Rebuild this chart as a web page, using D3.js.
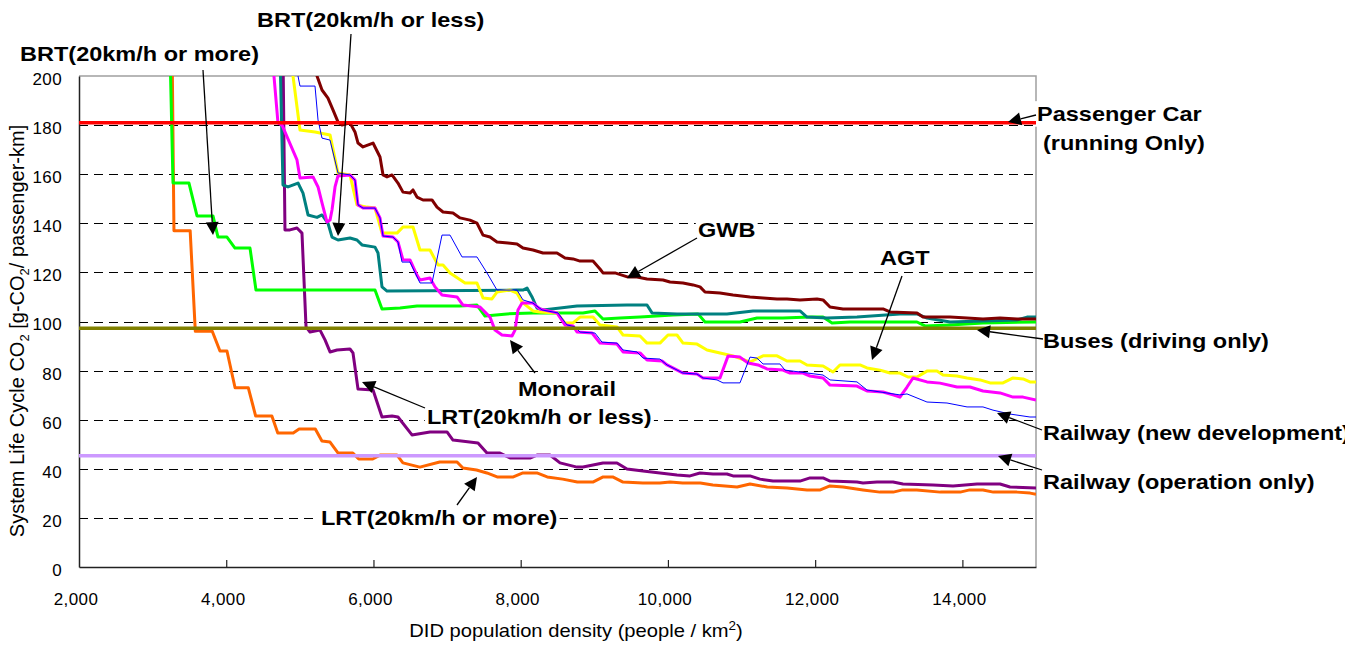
<!DOCTYPE html>
<html>
<head>
<meta charset="utf-8">
<script src="https://cdn.jsdelivr.net/npm/d3@7"></script>
<style>
  body { margin: 0; background: #fff; }
  svg { display: block; font-family: "Liberation Sans", Arial, sans-serif; }
</style>
</head>
<body>
<svg id="chart" width="1345" height="647"></svg>
<script>

// Series: [DID population density, g-CO2 / passenger-km]
const lrtFast = [[3265,210],[3290,137],[3510,137],[3580,96],[3810,96],[3915,88],[4010,88],[4120,73],[4300,73],[4400,61.5],[4620,61.5],[4700,54.6],[4910,54.6],[4990,56.2],[5210,56.2],[5300,51.3],[5410,50.9],[5520,46.4],[5720,46.4],[5800,44],[5990,44],[6090,45.6],[6320,45.6],[6400,42.4],[6630,40.7],[6900,42.8],[7135,42.8],[7215,40.3],[7400,39.5],[7540,38.3],[7680,36.7],[7900,36.7],[8030,38.3],[8220,38.3],[8360,36.7],[8570,35.8],[8770,34.6],[8980,34.6],[9120,36.7],[9250,36.7],[9390,34.6],[9660,34.2],[9890,34.2],[10030,34.6],[10200,34.2],[10440,34.2],[10610,33.4],[10940,32.6],[11115,33.8],[11350,32.6],[11620,32.2],[11890,31.4],[12070,31.4],[12200,33],[12380,32.6],[12650,31.4],[12880,30.5],[13060,30.5],[13190,31.4],[13380,31.4],[13700,30.5],[13970,30.5],[14100,31.4],[14280,31.4],[14420,30.5],[14740,30.5],[14920,30.1],[15000,29.6]];

const brtFast = [[3236,210],[3277,156.4],[3494,156.4],[3603,143],[3820,143],[3888,134.4],[4010,134.4],[4119,129.9],[4323,129.9],[4404,112.8],[6021,112.8],[6116,105.1],[6361,105.5],[6591,106.3],[7176,106.3],[7406,106.7],[7515,102.2],[7814,103.1],[8167,103.5],[8846,103.5],[9009,104.3],[9118,101],[9349,101.4],[9621,101.8],[10069,102.6],[10409,103.1],[10504,99.8],[10979,99.8],[11210,101.4],[11563,101.4],[11930,101.8],[12107,101.8],[12229,99.4],[12473,99.8],[13383,99.8],[13492,98.2],[13832,98.6],[14280,99.4],[15000,99.8]];

const lrtSlow = [[4771,210],[4798,137.3],[4866,137.3],[4961,138.1],[5029,136],[5084,97.8],[5138,95.7],[5274,96.5],[5342,92.5],[5410,87.6],[5505,88.4],[5681,88.8],[5722,87.2],[5790,72.5],[5994,72.1],[6116,61.1],[6252,61.5],[6333,61.1],[6523,53.8],[6768,55],[6999,55],[7080,51.7],[7420,50.5],[7542,46.4],[7719,46.4],[7855,44.4],[8126,44.4],[8221,45.6],[8398,45.6],[8534,42.4],[8765,40.7],[8846,40.7],[9118,42.4],[9308,42.4],[9444,39.9],[9661,39.1],[9892,38.3],[10123,37.5],[10300,37.1],[10436,38.3],[10612,37.9],[10802,37.9],[10884,37.1],[11115,37.1],[11251,35.8],[11427,35],[11794,35],[11930,36.3],[12107,36.3],[12202,35],[12568,34.6],[12650,34.2],[12840,34.6],[13058,34.6],[13193,33.8],[13601,33.4],[13873,33],[14199,33.8],[14511,33.8],[14647,32.6],[15000,32.2]];

const brtSlow = [[4730,210],[4771,155.6],[4839,154.8],[4975,156.4],[5043,152.3],[5111,143.4],[5233,142.4],[5301,143.4],[5382,140.1],[5437,134.4],[5518,133.2],[5681,134],[5776,133.2],[5844,131.2],[6021,130.3],[6062,127.9],[6116,114.1],[6184,112.4],[7950,112.8],[8031,112.8],[8086,113.6],[8154,110],[8221,105.5],[8303,104.7],[8534,105.5],[8765,106.3],[9444,106.7],[9716,106.7],[9784,103.5],[10123,103.1],[10802,103.1],[11156,104.3],[11794,104.3],[11889,101.8],[12161,101.4],[12568,101.8],[13152,103.1],[13383,103.1],[13519,101.4],[13832,99.8],[14280,100.2],[14742,100.6],[14878,101.8],[15000,101.8]];

const monorail = [[4620,210],[4703,180.9],[4758,180],[4961,165.8],[5002,158.5],[5179,158.9],[5247,154.8],[5301,148.3],[5369,140.5],[5410,141.3],[5437,145.4],[5478,154.8],[5518,159.3],[5681,159.7],[5749,157.6],[5790,147.5],[5858,146.2],[6021,146.2],[6089,142.2],[6130,134.8],[6265,134.4],[6333,132.4],[6401,125.1],[6496,125.1],[6591,118.9],[6632,116.9],[6768,117.7],[6836,114.1],[6931,110.8],[7135,110],[7216,106.7],[7447,105.9],[7583,101.8],[7651,96.5],[7746,94.5],[7882,94.1],[7923,96.5],[7963,104.7],[8018,107.5],[8167,107.5],[8262,105.1],[8493,103.5],[8602,98.6],[8711,98.2],[8765,95.7],[8969,95.3],[9077,91.2],[9308,90.8],[9390,87.6],[9621,87.2],[9716,84.3],[9920,83.9],[9988,82.3],[10205,79],[10395,78.6],[10476,77],[10707,77],[10816,85.9],[10979,85.5],[11088,83.1],[11224,82.3],[11346,80.7],[11563,80.2],[11658,79],[11835,79],[11930,77.8],[12107,77],[12202,74.1],[12568,73.7],[12704,71.7],[12922,71.3],[13058,70.1],[13152,69.2],[13248,73.3],[13329,77],[13519,75.4],[13696,74.9],[13927,73.3],[14103,73.3],[14280,71.7],[14511,70.9],[14688,69.2],[14824,69.2],[15000,68]];

const agt = [[4866,210],[4907,200],[5002,178],[5206,177.2],[5410,176],[5518,160.5],[5681,159.7],[5776,147.5],[5912,146.6],[6021,146.2],[6116,136],[6320,136],[6401,138.5],[6537,138.5],[6632,129.1],[6768,129.1],[6877,123],[6945,123],[7040,119.8],[7244,115.7],[7406,115.7],[7488,109.6],[7610,109.2],[7678,112],[7855,112.8],[7950,111.6],[8018,107.9],[8167,104.3],[8262,103.9],[8493,103.5],[8602,99.4],[8711,99.4],[8806,101.8],[8982,101.8],[9077,98.6],[9308,97.8],[9390,94.5],[9621,94.1],[9716,91.2],[9892,91.2],[10001,94.5],[10123,94.5],[10205,91.2],[10395,90.8],[10531,88.4],[10707,87.2],[10884,86],[11115,83.5],[11292,86],[11482,86],[11617,83.9],[11794,83.9],[11889,82.3],[12107,81.9],[12243,79.4],[12337,82.3],[12609,82.3],[12704,81.1],[12881,80.2],[13017,79],[13152,79],[13261,77.4],[13383,77.4],[13519,79.8],[13655,79.8],[13737,78.2],[13927,77.8],[14063,77],[14240,76.2],[14375,75],[14552,75],[14688,77],[14824,76.6],[14918,75.4],[15000,75.4]];

const railNew = [[4960,210],[4975,200],[5002,195.9],[5206,195.9],[5247,182.1],[5301,174.7],[5410,173.9],[5518,160.5],[5681,159.7],[5749,157.6],[5790,147.5],[5858,146.2],[6021,146.2],[6089,142.2],[6130,134.8],[6265,134.4],[6333,132.4],[6388,124.2],[6496,124.2],[6632,115.7],[6795,115.7],[6931,135.2],[7040,135.2],[7203,126.3],[7406,126.3],[7542,119.8],[7678,112.8],[7950,112.8],[8031,108.8],[8167,107.5],[8289,104.7],[8507,103.5],[8629,98.6],[8738,97.8],[8806,95.7],[9009,95.3],[9104,91.6],[9308,91.2],[9390,88.4],[9580,87.6],[9661,85.1],[9892,84.7],[9988,82.3],[10205,79],[10395,78.6],[10476,77],[10667,76.2],[10748,75],[10979,75],[11115,85.5],[11210,85.1],[11292,82.7],[11522,82.7],[11590,80.2],[12107,78.2],[12202,76.2],[12568,75.4],[12704,72.1],[13152,70.1],[13248,70.5],[13519,67.2],[13791,66.8],[14063,65.2],[14280,65.2],[14416,63.9],[14647,62.3],[14918,61.1],[15000,61.1]];

const gwb = [[5220,210],[5233,200],[5301,194.3],[5382,191],[5450,186.2],[5518,181.3],[5573,180],[5681,180.9],[5749,177.2],[5790,172.7],[5858,171.1],[5994,172.7],[6089,167],[6130,159.7],[6184,158.9],[6252,159.7],[6333,156.4],[6401,152.7],[6496,152.3],[6537,153.6],[6591,150.7],[6673,149.5],[6795,149.5],[6863,146.6],[6945,144.6],[7080,144.2],[7176,142.2],[7311,141.3],[7406,140.1],[7488,135.2],[7583,134.4],[7678,132.4],[7828,132],[7950,131.6],[8031,129.9],[8167,129.1],[8303,127.9],[8493,127.9],[8602,125.9],[8711,125.5],[8806,124.6],[8982,124.6],[9077,121.4],[9118,119.8],[9281,119.8],[9458,118.1],[9580,118.1],[9716,117.3],[9933,116.9],[10028,116.1],[10205,115.7],[10341,114.9],[10436,114.1],[10504,112],[10707,111.6],[10884,110.8],[11115,110],[11292,109.6],[11482,109.2],[11617,109.2],[11794,108.8],[12025,109.2],[12107,108.8],[12202,105.9],[12378,105.1],[12922,105.1],[13017,103.9],[13383,103.5],[13465,101.8],[13832,101.8],[14063,101.4],[14280,101],[14511,101.4],[14742,101],[15000,101]];

// Constant reference levels
const passengerCar = 181;
const buses = 97.3;
const railOperation = 45.3;

const xTicks = [2000, 4000, 6000, 8000, 10000, 12000, 14000];
const yTicks = [0, 20, 40, 60, 80, 100, 120, 140, 160, 180, 200];
const gridValues = [20, 40, 60, 80, 100, 120, 140, 160, 180];

// Styles for each series, drawing order = later on top
let series = [
  { data: lrtFast,  color: '#ff6600', width: 3 },
  { data: lrtSlow,  color: '#800080', width: 3 },
  { data: brtFast,  color: '#00ff00', width: 3 },
  { data: brtSlow,  color: '#008080', width: 3 },
  { data: gwb,      color: '#800000', width: 3 },
  { data: agt,      color: '#ffff00', width: 3 },
  { data: monorail, color: '#ff00ff', width: 3 },
  { data: railNew,  color: '#0000ff', width: 1 }
];

let refLines = [
  { value: passengerCar,  color: '#ff0000' },
  { value: buses,         color: '#808000' },
  { value: railOperation, color: '#cc99ff' }
];

// Annotation layout (pixels)
let stretch = 1.12;
let labels = [
  { text: 'BRT(20km/h or less)', x: 257, y: 27 },
  { text: 'BRT(20km/h or more)', x: 20, y: 61 },
  { text: 'GWB', x: 698, y: 237 },
  { text: 'AGT', x: 880, y: 265 },
  { text: 'Passenger Car', x: 1037, y: 121 },
  { text: '(running Only)', x: 1043, y: 150 },
  { text: 'Buses (driving only)', x: 1043, y: 348 },
  { text: 'Railway (new development)', x: 1043, y: 440 },
  { text: 'Railway (operation only)', x: 1043, y: 489 },
  { text: 'Monorail', x: 518, y: 396 },
  { text: 'LRT(20km/h or less)', x: 427, y: 424 },
  { text: 'LRT(20km/h or more)', x: 321, y: 525 }
];

let arrows = [
  [203, 70, 213, 235],
  [351, 34, 338, 236],
  [697, 238, 627, 278],
  [902, 276, 872, 360],
  [1036, 115, 1008, 122],
  [1043, 339, 977, 330],
  [1042, 430, 997, 413],
  [1042, 470, 998, 456],
  [535, 373, 510, 340],
  [425, 408, 362, 382],
  [457, 505, 477, 477]
];

let svg = d3.select('#chart');

let x = d3.scaleLinear().domain([2000, 15000]).range([79, 1036]);
let y = d3.scaleLinear().domain([0, 200]).range([567, 76]);

svg.append('defs').append('clipPath').attr('id', 'plot')
  .append('rect')
  .attr('x', x(2000)).attr('y', y(200))
  .attr('width', x(15000) - x(2000)).attr('height', y(0) - y(200));

// dashed grid
svg.append('g').selectAll('line')
  .data(gridValues)
  .join('line')
    .attr('x1', x(2000)).attr('x2', x(15000))
    .attr('y1', d => Math.round(y(d)) + 0.5)
    .attr('y2', d => Math.round(y(d)) + 0.5)
    .attr('stroke', '#000')
    .attr('stroke-width', 1)
    .attr('stroke-dasharray', '9,6');

// gray frame top/right
svg.append('path')
  .attr('d', `M${x(2000)},${y(200)}H${x(15000)}V${y(0)}`)
  .attr('fill', 'none')
  .attr('stroke', '#a0a0a0')
  .attr('stroke-width', 1.5);

// axes
let xAxis = svg.append('g')
  .attr('transform', `translate(0,${y(0)})`)
  .call(d3.axisBottom(x).tickValues(xTicks).tickSize(-7).tickSizeOuter(0).tickFormat(d3.format(',')));
xAxis.attr('font-size', 17).attr('font-family', null);
xAxis.select('.domain').attr('stroke', '#222').attr('stroke-width', 1.5);
xAxis.selectAll('.tick line').attr('stroke', '#222').attr('stroke-width', 1.2)
  .filter(d => d === 2000).remove();
xAxis.selectAll('.tick text')
  .attr('y', 38).attr('dy', null).attr('x', -3.5)
  .attr('fill', '#000')
  .style('letter-spacing', '0.4px');

let yAxis = svg.append('g')
  .attr('transform', `translate(${x(2000)},0)`)
  .call(d3.axisLeft(y).tickValues(yTicks).tickSize(0).tickPadding(17));
yAxis.attr('font-size', 17).attr('font-family', null);
yAxis.select('.domain').attr('stroke', '#222').attr('stroke-width', 1.5);
yAxis.selectAll('.tick text').attr('y', 3).attr('fill', '#000')
  .style('letter-spacing', '0.4px');

// axis titles
let yTitle = svg.append('text')
  .attr('transform', 'translate(24,331) rotate(-90)')
  .attr('text-anchor', 'middle')
  .attr('font-size', 20)
  .attr('fill', '#000');
yTitle.append('tspan').text('System Life Cycle CO');
yTitle.append('tspan').text('2').attr('font-size', 13).attr('dy', 5);
yTitle.append('tspan').text(' [g-CO').attr('dy', -5);
yTitle.append('tspan').text('2').attr('font-size', 13).attr('dy', 5);
yTitle.append('tspan').text('/ passenger-km]').attr('dy', -5);

let xTitle = svg.append('text')
  .attr('transform', `translate(576,637) scale(${stretch},1)`)
  .attr('text-anchor', 'middle')
  .attr('font-size', 18)
  .attr('fill', '#000');
xTitle.append('tspan').text('DID population density (people / km');
xTitle.append('tspan').text('2').attr('font-size', 12).attr('dy', -7);
xTitle.append('tspan').text(')').attr('dy', 7);

// white text boxes sit under the data, the text itself goes on top later
let boxLayer = svg.append('g');

// series
let line = d3.line()
  .x(d => x(d[0]))
  .y(d => y(d[1]));

let plot = svg.append('g').attr('clip-path', 'url(#plot)');

plot.selectAll('path.series')
  .data(series)
  .join('path')
    .attr('class', 'series')
    .attr('d', d => line(d.data))
    .attr('fill', 'none')
    .attr('stroke', d => d.color)
    .attr('stroke-width', d => d.width)
    .attr('stroke-linejoin', 'round');

plot.selectAll('line.ref')
  .data(refLines)
  .join('line')
    .attr('class', 'ref')
    .attr('x1', x(2000)).attr('x2', x(15000))
    .attr('y1', d => y(d.value)).attr('y2', d => y(d.value))
    .attr('stroke', d => d.color)
    .attr('stroke-width', 3.5);

// arrows
let arrowG = svg.append('g');
arrows.forEach(a => {
  let [x1, y1, x2, y2] = a;
  let dx = x2 - x1, dy = y2 - y1;
  let len = Math.sqrt(dx * dx + dy * dy);
  let ux = dx / len, uy = dy / len;
  let headL = 13, headW = 6.5;
  let bx = x2 - ux * headL, by = y2 - uy * headL;
  arrowG.append('line')
    .attr('x1', x1).attr('y1', y1).attr('x2', bx).attr('y2', by)
    .attr('stroke', '#000').attr('stroke-width', 1.3);
  arrowG.append('path')
    .attr('d', `M${x2},${y2}L${bx - uy * headW},${by + ux * headW}L${bx + uy * headW},${by - ux * headW}Z`)
    .attr('fill', '#000');
});

// labels
let textLayer = svg.append('g')
  .attr('font-size', 21)
  .attr('font-weight', 'bold');

textLayer.selectAll('text')
  .data(labels)
  .join('text')
    .attr('transform', d => `translate(${d.x},${d.y}) scale(${stretch},1)`)
    .attr('fill', '#000')
    .text(d => d.text)
    .each(function(d) {
      let b = this.getBBox();
      boxLayer.append('rect')
        .attr('transform', `translate(${d.x},${d.y}) scale(${stretch},1)`)
        .attr('x', b.x - 2).attr('y', b.y - 1)
        .attr('width', b.width + 4).attr('height', b.height + 2)
        .attr('fill', '#fff');
    });

</script>
</body>
</html>
